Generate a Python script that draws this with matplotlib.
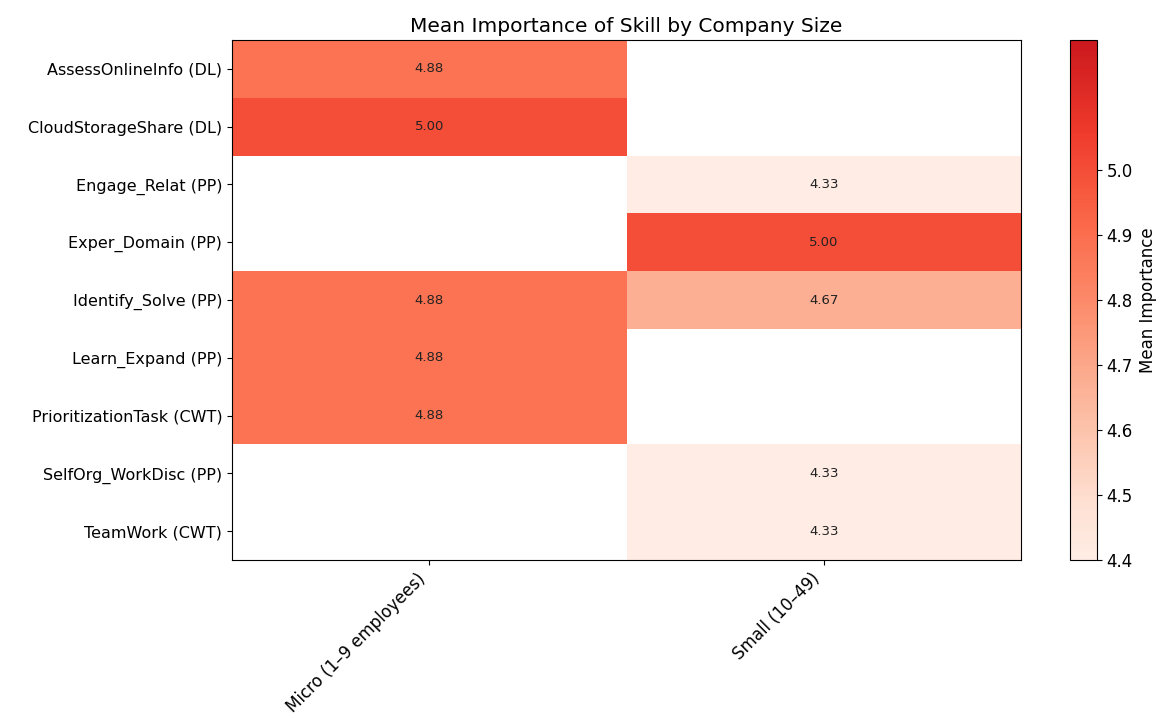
import numpy as np
import matplotlib
matplotlib.use("Agg")
import matplotlib.pyplot as plt
from matplotlib.colors import LinearSegmentedColormap

skills = [
    "AssessOnlineInfo (DL)",
    "CloudStorageShare (DL)",
    "Engage_Relat (PP)",
    "Exper_Domain (PP)",
    "Identify_Solve (PP)",
    "Learn_Expand (PP)",
    "PrioritizationTask (CWT)",
    "SelfOrg_WorkDisc (PP)",
    "TeamWork (CWT)",
]
company_sizes = ["Micro (1–9 employees)", "Small (10–49)"]

micro_scores = [4.88, 5.00, np.nan, np.nan, 4.88, 4.88, 4.88, np.nan, np.nan]
small_scores = [np.nan, np.nan, 4.33, 5.00, 4.67, np.nan, np.nan, 4.33, 4.33]

values = np.ma.masked_invalid(np.column_stack([micro_scores, small_scores]))

# Reds, trimmed so the scale runs from a pale blush to a strong red
base = plt.get_cmap("Reds")
cmap = LinearSegmentedColormap.from_list(
    "reds_trim", base(np.linspace(0.05, 0.75, 256)))
cmap.set_bad("white")

fig = plt.figure(figsize=(11.64, 7.18), dpi=100)
ax = fig.add_axes([232 / 1164, 1 - 560 / 718, (1021 - 232) / 1164, 520 / 718])
cax = fig.add_axes([1070 / 1164, 1 - 560 / 718, 27 / 1164, 520 / 718])

n_rows, n_cols = values.shape
mesh = ax.pcolormesh(np.arange(n_cols + 1), np.arange(n_rows + 1), values,
                     cmap=cmap, vmin=4.4, vmax=5.2)
ax.set_xlim(0, n_cols)
ax.set_ylim(n_rows, 0)

for i in range(n_rows):
    for j in range(n_cols):
        v = values[i, j]
        if v is not np.ma.masked:
            ax.text(j + 0.5, i + 0.5, f"{v:.2f}", ha="center", va="center",
                    fontsize=9.5, color="#222222")

ax.set_xticks(np.arange(n_cols) + 0.5)
ax.set_xticklabels(company_sizes, rotation=45, ha="right", fontsize=12)
ax.set_yticks(np.arange(n_rows) + 0.5)
ax.set_yticklabels(skills, fontsize=11.5)
ax.set_title("Mean Importance of Skill by Company Size", fontsize=14.5)

cb = fig.colorbar(mesh, cax=cax)
cb.set_ticks([4.4, 4.5, 4.6, 4.7, 4.8, 4.9, 5.0])
cb.ax.tick_params(labelsize=12)
cb.set_label("Mean Importance", fontsize=12)

fig.savefig("out.png", dpi=100)
